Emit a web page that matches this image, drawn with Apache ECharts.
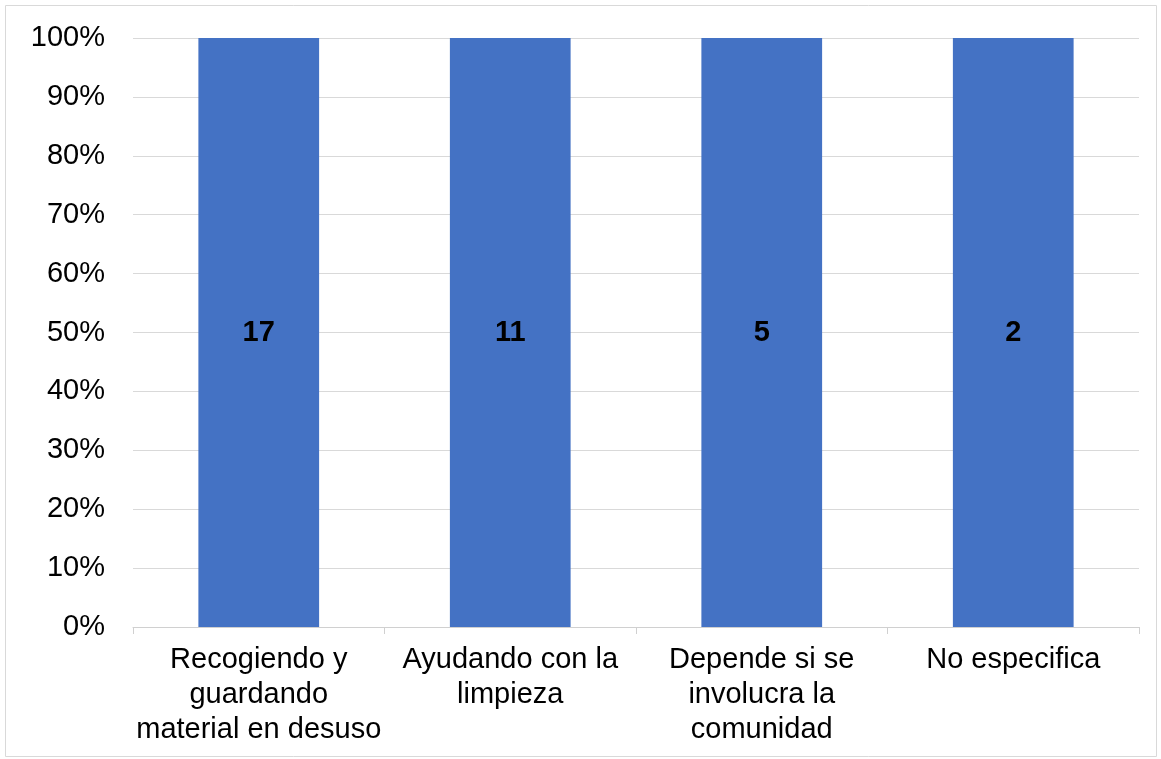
<!DOCTYPE html>
<html><head><meta charset="utf-8">
<script src="https://cdn.jsdelivr.net/npm/echarts@6/dist/echarts.min.js"></script>
<style>html,body{margin:0;padding:0;background:#fff}#c{width:1161px;height:759px}</style>
</head><body><div id="c"></div>
<script>
var categories = ["Recogiendo y\nguardando\nmaterial en desuso", "Ayudando con la\nlimpieza", "Depende si se\ninvolucra la\ncomunidad", "No especifica"];
var counts = [17, 11, 5, 2];
var percents = [100, 100, 100, 100];

var chart = echarts.init(document.getElementById('c'));
chart.setOption({
  animation: false,
  textStyle: {fontFamily: 'Liberation Sans, Arial, sans-serif'},
  graphic: [{type: 'rect', shape: {x: 5.5, y: 5.5, width: 1151, height: 751}, style: {fill: 'none', stroke: '#d9d9d9', lineWidth: 1}, silent: true}],
  grid: {left: 133, right: 22, top: 38, bottom: 132, containLabel: false},
  xAxis: {
    type: 'category', data: categories,
    axisLine: {lineStyle: {color: '#d0d0d0', width: 1}},
    axisTick: {show: true, length: 7, lineStyle: {color: '#d0d0d0'}},
    axisLabel: {color: '#000', fontSize: 29, lineHeight: 35, margin: 15, interval: 0}
  },
  yAxis: {
    type: 'value', min: 0, max: 100, interval: 10,
    axisLine: {show: false}, axisTick: {show: false},
    splitLine: {lineStyle: {color: '#d9d9d9', width: 1}},
    axisLabel: {color: '#000', fontSize: 29, margin: 28, formatter: '{value}%'}
  },
  series: [{
    type: 'bar', data: percents, barWidth: '48%',
    itemStyle: {color: '#4472c4'},
    label: {show: true, position: 'inside', color: '#000', fontSize: 29, fontWeight: 'bold',
      formatter: function(p){ return counts[p.dataIndex]; }}
  }]
});
</script></body></html>
